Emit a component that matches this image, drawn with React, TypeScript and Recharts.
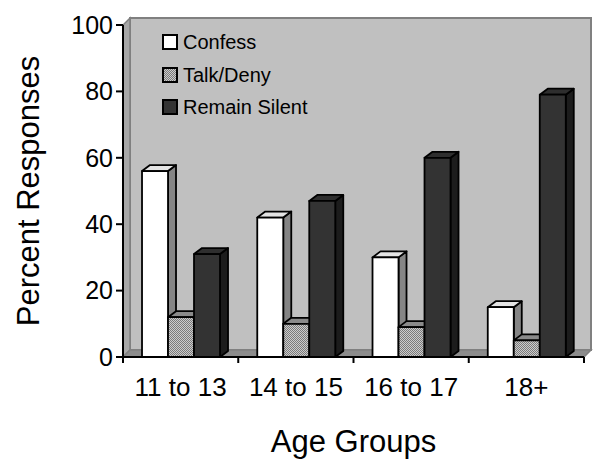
import React from 'react';
import { BarChart, Bar, XAxis, YAxis, ReferenceArea, Legend } from 'recharts';

const categories = ['11 to 13', '14 to 15', '16 to 17', '18+'];
const confess = [56, 42, 30, 15];
const talkDeny = [12, 10, 9, 5];
const remainSilent = [31, 47, 60, 79];
const yTicks = [0, 20, 40, 60, 80, 100];

const data = categories.map((age, i) => ({
  age,
  confess: confess[i],
  talkDeny: talkDeny[i],
  remainSilent: remainSilent[i],
}));

const FONT = '"Liberation Sans", Arial, Helvetica, sans-serif';
const WALL_DX = 7;
const WALL_DY = 7;
const BAR_DX = 8;
const BAR_DY = 6;

type SeriesStyle = { key: string; name: string; front: string; top: string; side: string };
const series: SeriesStyle[] = [
  { key: 'confess', name: 'Confess', front: '#ffffff', top: '#e4e4e4', side: '#858585' },
  { key: 'talkDeny', name: 'Talk/Deny', front: 'url(#stipple)', top: '#8a8a8a', side: '#6a6a6a' },
  { key: 'remainSilent', name: 'Remain Silent', front: '#333333', top: '#2e2e2e', side: '#1c1c1c' },
];

const Walls = (props: any) => {
  const { x, y, width, height } = props;
  const n = categories.length;
  const bottom = y + height;
  const right = x + width;
  const ticks = Array.from({ length: n + 1 }, (_, i) => x + (i * width) / n);
  return (
    <g>
      <defs>
        <pattern id="stipple" width="2" height="2" patternUnits="userSpaceOnUse">
          <rect width="2" height="2" fill="#cccccc" />
          <rect width="1" height="1" fill="#7a7a7a" />
          <rect x="1" y="1" width="1" height="1" fill="#7a7a7a" />
        </pattern>
      </defs>
      <rect
        x={x + WALL_DX}
        y={y - WALL_DY}
        width={width}
        height={height}
        fill="#c0c0c0"
        stroke="#808080"
        strokeWidth={2}
      />
      <polygon
        points={`${x},${bottom} ${x},${y} ${x + WALL_DX},${y - WALL_DY} ${x + WALL_DX},${bottom - WALL_DY}`}
        fill="#a8a8a8"
        stroke="#808080"
        strokeWidth={1.5}
      />
      <polygon
        points={`${x},${bottom} ${right},${bottom} ${right + WALL_DX},${bottom - WALL_DY} ${x + WALL_DX},${bottom - WALL_DY}`}
        fill="#8c8c8c"
        stroke="#808080"
        strokeWidth={1.5}
      />
      {ticks.map((tx, i) => (
        <line key={i} x1={tx} x2={tx} y1={bottom} y2={bottom + 6} stroke="#000" strokeWidth={2} />
      ))}
    </g>
  );
};

const makeBox = (s: SeriesStyle) => (props: any) => {
  const { x, y, width, height } = props;
  if (width == null || height == null || isNaN(x) || isNaN(y)) return <g />;
  const r = x + width;
  const b = y + height;
  return (
    <g stroke="#000" strokeWidth={1.8} strokeLinejoin="round">
      <polygon
        points={`${r},${b} ${r},${y} ${r + BAR_DX},${y - BAR_DY} ${r + BAR_DX},${b - BAR_DY}`}
        fill={s.side}
      />
      <polygon
        points={`${x},${y} ${r},${y} ${r + BAR_DX},${y - BAR_DY} ${x + BAR_DX},${y - BAR_DY}`}
        fill={s.top}
      />
      <rect x={x} y={y} width={width} height={height} fill={s.front} />
    </g>
  );
};

const LegendContent = () => (
  <div style={{ fontFamily: FONT, fontSize: 20, color: '#000', lineHeight: 1 }}>
    {series.map((s, i) => (
      <div key={s.key} style={{ display: 'flex', alignItems: 'center', height: 32.5 }}>
        <svg width={16} height={16} style={{ display: 'block' }}>
          <defs>
            <pattern id={`stipple-legend-${i}`} width="2" height="2" patternUnits="userSpaceOnUse">
              <rect width="2" height="2" fill="#cccccc" />
              <rect width="1" height="1" fill="#7a7a7a" />
              <rect x="1" y="1" width="1" height="1" fill="#7a7a7a" />
            </pattern>
          </defs>
          <rect
            x={1}
            y={1}
            width={14}
            height={14}
            fill={s.key === 'talkDeny' ? `url(#stipple-legend-${i})` : s.front}
            stroke="#000"
            strokeWidth={2}
          />
        </svg>
        <span style={{ marginLeft: 5 }}>{s.name}</span>
      </div>
    ))}
  </div>
);

const YTitle = (p: any) => {
  const vb = p.viewBox || { x: 0, y: 25, width: 123, height: 332 };
  const cx = 39;
  const cy = vb.y + vb.height / 2;
  return (
    <text
      x={cx}
      y={cy}
      transform={`rotate(-90 ${cx} ${cy})`}
      textAnchor="middle"
      fontSize={31}
      fontFamily={FONT}
      fill="#000"
    >
      Percent Responses
    </text>
  );
};

const XTitle = (p: any) => {
  const vb = p.viewBox || { x: 123, y: 357, width: 461, height: 108 };
  return (
    <text
      x={vb.x + vb.width / 2}
      y={vb.y + 95}
      textAnchor="middle"
      fontSize={31}
      fontFamily={FONT}
      fill="#000"
    >
      Age Groups
    </text>
  );
};

export default function App() {
  return (
    <div style={{ position: 'absolute', left: 0, top: 0, width: 602, height: 465, background: '#fff' }}>
      <BarChart
        width={602}
        height={465}
        data={data}
        margin={{ top: 25, right: 18, bottom: 0, left: 0 }}
        barCategoryGap="16.5%"
        barGap={0}
      >
        <ReferenceArea y1={0} y2={100} shape={<Walls />} ifOverflow="visible" />
        <XAxis
          dataKey="age"
          height={108}
          tickLine={false}
          tickSize={6}
          tickMargin={15}
          axisLine={{ stroke: '#000', strokeWidth: 2 }}
          tick={{ fontSize: 26, fill: '#000', fontFamily: FONT }}
          interval={0}
          label={{ content: <XTitle /> } as any}
        />
        <YAxis
          width={123}
          domain={[0, 100]}
          ticks={yTicks}
          tickSize={7}
          tickMargin={3}
          axisLine={{ stroke: '#000', strokeWidth: 2 }}
          tickLine={{ stroke: '#000', strokeWidth: 2 }}
          tick={{ fontSize: 25, fill: '#000', fontFamily: FONT }}
          label={{ content: <YTitle /> } as any}
        />
        <Legend
          layout="vertical"
          align="center"
          verticalAlign="middle"
          content={<LegendContent />}
          wrapperStyle={{ top: 26, left: 162, width: 'auto', height: 'auto' }}
        />
        {series.map((s) => (
          <Bar
            key={s.key}
            dataKey={s.key}
            name={s.name}
            fill={s.front}
            isAnimationActive={false}
            shape={makeBox(s)}
          />
        ))}
      </BarChart>
    </div>
  );
}
